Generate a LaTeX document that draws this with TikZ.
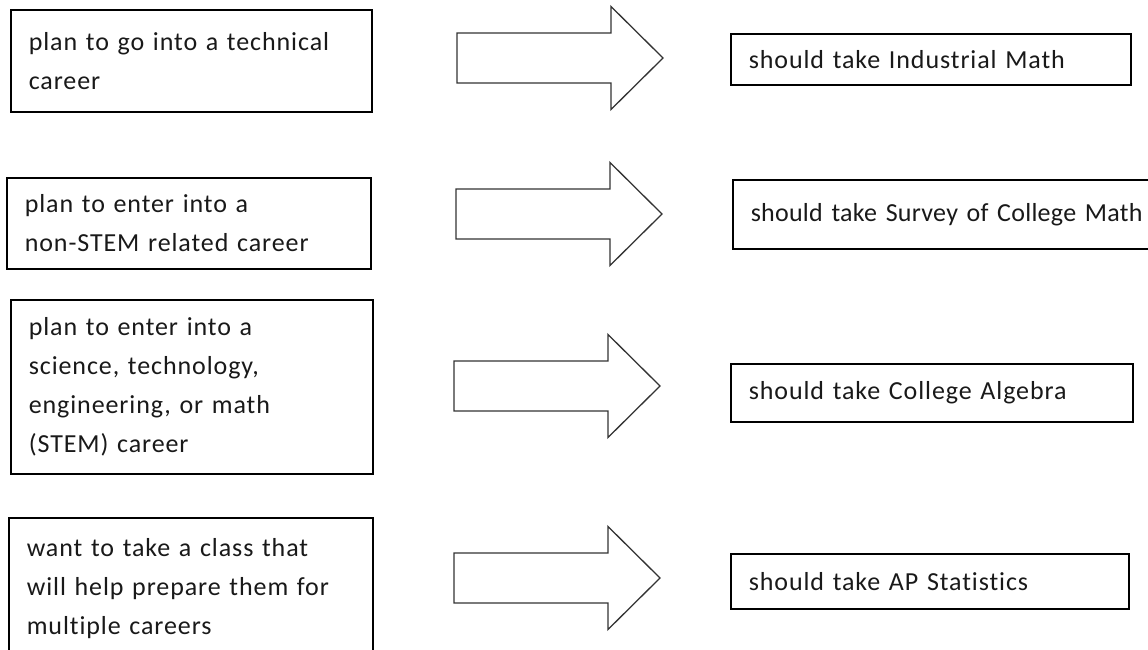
\documentclass[tikz,border=0pt]{standalone}
\usepackage{fontspec}
\setmainfont[Ligatures=NoCommon,LetterSpace=3.5]{Carlito}
\begin{document}
\begin{tikzpicture}[x=1pt,y=-1pt,
  box/.style={draw=black, line width=1.6pt, anchor=north west, inner xsep=18pt, inner ysep=0pt,
    align=left, text=black!90, font=\fontsize{26}{39}\selectfont},
  blk/.style={draw=black!80, line width=1.3pt, fill=white, line join=miter}]
\useasboundingbox (0,0) rectangle (1148,650);
\tikzset{barrow/.pic={\draw[blk] (0,-25) -- (154,-25) -- (154,-51.5) -- (206,0) -- (154,51.5) -- (154,25) -- (0,25) -- cycle;}}
% left boxes
\node[box, text width=325pt, minimum height=102pt] (l1) at (10,9) {plan to go into a technical\\career};
\node[box, text width=328pt, minimum height=91pt] (l2) at (6,177) {plan to enter into a\\non-STEM related career};
\node[box, text width=326pt, minimum height=174pt] (l3) at (10,299) {plan to enter into a\\science, technology,\\engineering, or math\\(STEM) career};
\node[box, text width=328pt, minimum height=142pt] (l4) at (8,517) {want to take a class that\\will help prepare them for\\multiple careers};
% right boxes
\node[box, text width=364pt, minimum height=51pt] (r1) at (730,33) {should take Industrial Math};
\node[box, text width=430pt, minimum height=69pt, font=\fontsize{26}{39}\selectfont\addfontfeature{LetterSpace=1}] (r2) at (732,179) {should take Survey of College Math};
\node[box, text width=366pt, minimum height=58pt] (r3) at (730,363) {should take College Algebra};
\node[box, text width=362pt, minimum height=55pt] (r4) at (730,553) {should take AP Statistics};
% block arrows
\pic at (457,58) {barrow};
\pic at (456,214) {barrow};
\pic at (454,386) {barrow};
\pic at (454,578) {barrow};
\end{tikzpicture}
\end{document}
